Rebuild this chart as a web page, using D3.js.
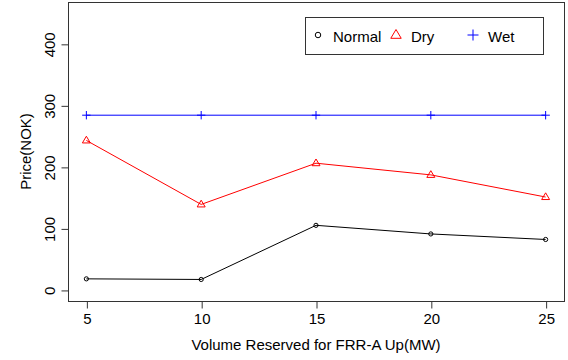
<!DOCTYPE html>
<html>
<head>
<meta charset="utf-8">
<script src="https://cdn.jsdelivr.net/npm/d3@7"></script>
<style>
  body { margin: 0; background: #fff; }
  svg { font-family: "Liberation Sans", Arial, sans-serif; }
</style>
</head>
<body>
<svg id="chart" width="568" height="360"></svg>
<script>
const volumes = [5, 10, 15, 20, 25];
const normalPrice = [18, 17, 105, 91, 82];
const dryPrice = [243, 139, 206, 187, 151];
const wetPrice = [284, 284, 284, 284, 284];
const xTicks = [5, 10, 15, 20, 25];
const yTicks = [0, 100, 200, 300, 400];

const svg = d3.select('#chart');

// plot box in pixels
const box = { left: 68, right: 564, top: 2, bottom: 301 };

const x = d3.scaleLinear().domain([4.2, 25.8]).range([box.left, box.right]);
const y = d3.scaleLinear().domain([-18, 468]).range([box.bottom, box.top]);

// box
svg.append('rect')
  .attr('x', box.left + 0.5)
  .attr('y', box.top + 0.5)
  .attr('width', box.right - box.left)
  .attr('height', box.bottom - box.top)
  .style('fill', 'none')
  .style('stroke', '#333')
  .style('stroke-width', 1);

// x axis
const xAxis = svg.append('g')
  .attr('transform', `translate(0.5, ${box.bottom + 0.5})`)
  .call(d3.axisBottom(x).tickValues(xTicks).tickSize(7).tickPadding(5).tickSizeOuter(0));
xAxis.select('.domain').remove();
xAxis.selectAll('line').style('stroke', '#333');
xAxis.selectAll('text').style('font-size', '15px').style('fill', '#000');

// y axis, labels rotated like R
const yAxis = svg.append('g')
  .attr('transform', `translate(${box.left + 0.5}, 0.5)`)
  .call(d3.axisLeft(y).tickValues(yTicks).tickSize(7).tickSizeOuter(0));
yAxis.select('.domain').remove();
yAxis.selectAll('line').style('stroke', '#333');
yAxis.selectAll('text')
  .attr('x', 0).attr('dy', 0)
  .attr('transform', 'translate(-14, 0) rotate(-90)')
  .style('text-anchor', 'middle')
  .style('font-size', '15px')
  .style('fill', '#000');

// titles
svg.append('text')
  .attr('x', (box.left + box.right) / 2)
  .attr('y', 350)
  .attr('text-anchor', 'middle')
  .style('font-size', '15px')
  .text('Volume Reserved for FRR-A Up(MW)');

svg.append('text')
  .attr('transform', `translate(31, ${(box.top + box.bottom) / 2}) rotate(-90)`)
  .attr('text-anchor', 'middle')
  .style('font-size', '15px')
  .text('Price(NOK)');

const series = [
  { name: 'Normal', values: normalPrice, color: '#000', shape: 'circle' },
  { name: 'Dry', values: dryPrice, color: '#ff0000', shape: 'triangle' },
  { name: 'Wet', values: wetPrice, color: '#0000ff', shape: 'plus' }
];

const line = d3.line().x(d => x(d[0])).y(d => y(d[1]));

//маркеры как в R: pch 1, 2, 3
const drawMarker = (g, shape, color, cx, cy, s) => {
  if (shape === 'circle') {
    g.append('circle').attr('cx', cx).attr('cy', cy).attr('r', s * 0.5)
      .style('fill', 'none').style('stroke', color);
  } else if (shape === 'triangle') {
    const r = s;
    g.append('path')
      .attr('d', `M${cx},${cy - r} L${cx + r * 0.95},${cy + r * 0.6} L${cx - r * 0.95},${cy + r * 0.6} Z`)
      .style('fill', 'none').style('stroke', color);
  } else {
    const r = s;
    g.append('path')
      .attr('d', `M${cx - r},${cy} H${cx + r} M${cx},${cy - r} V${cy + r}`)
      .style('fill', 'none').style('stroke', color);
  }
};

series.forEach(s => {
  const pts = volumes.map((v, i) => [v, s.values[i]]);
  const g = svg.append('g');
  g.append('path')
    .attr('d', line(pts))
    .style('fill', 'none')
    .style('stroke', s.color)
    .style('stroke-width', 1);
  pts.forEach(p => drawMarker(g, s.shape, s.color, x(p[0]), y(p[1]), 4.2));
});

// legend
const legend = svg.append('g');
legend.append('rect')
  .attr('x', 305.5).attr('y', 17.5)
  .attr('width', 238).attr('height', 37)
  .style('fill', '#fff').style('stroke', '#333');

const legendX = [318, 396, 473];
series.forEach((s, i) => {
  drawMarker(legend, s.shape, s.color, legendX[i], 35, 5.5);
  legend.append('text')
    .attr('x', legendX[i] + 15)
    .attr('y', 42)
    .style('font-size', '15px')
    .text(s.name);
});
</script>
</body>
</html>
